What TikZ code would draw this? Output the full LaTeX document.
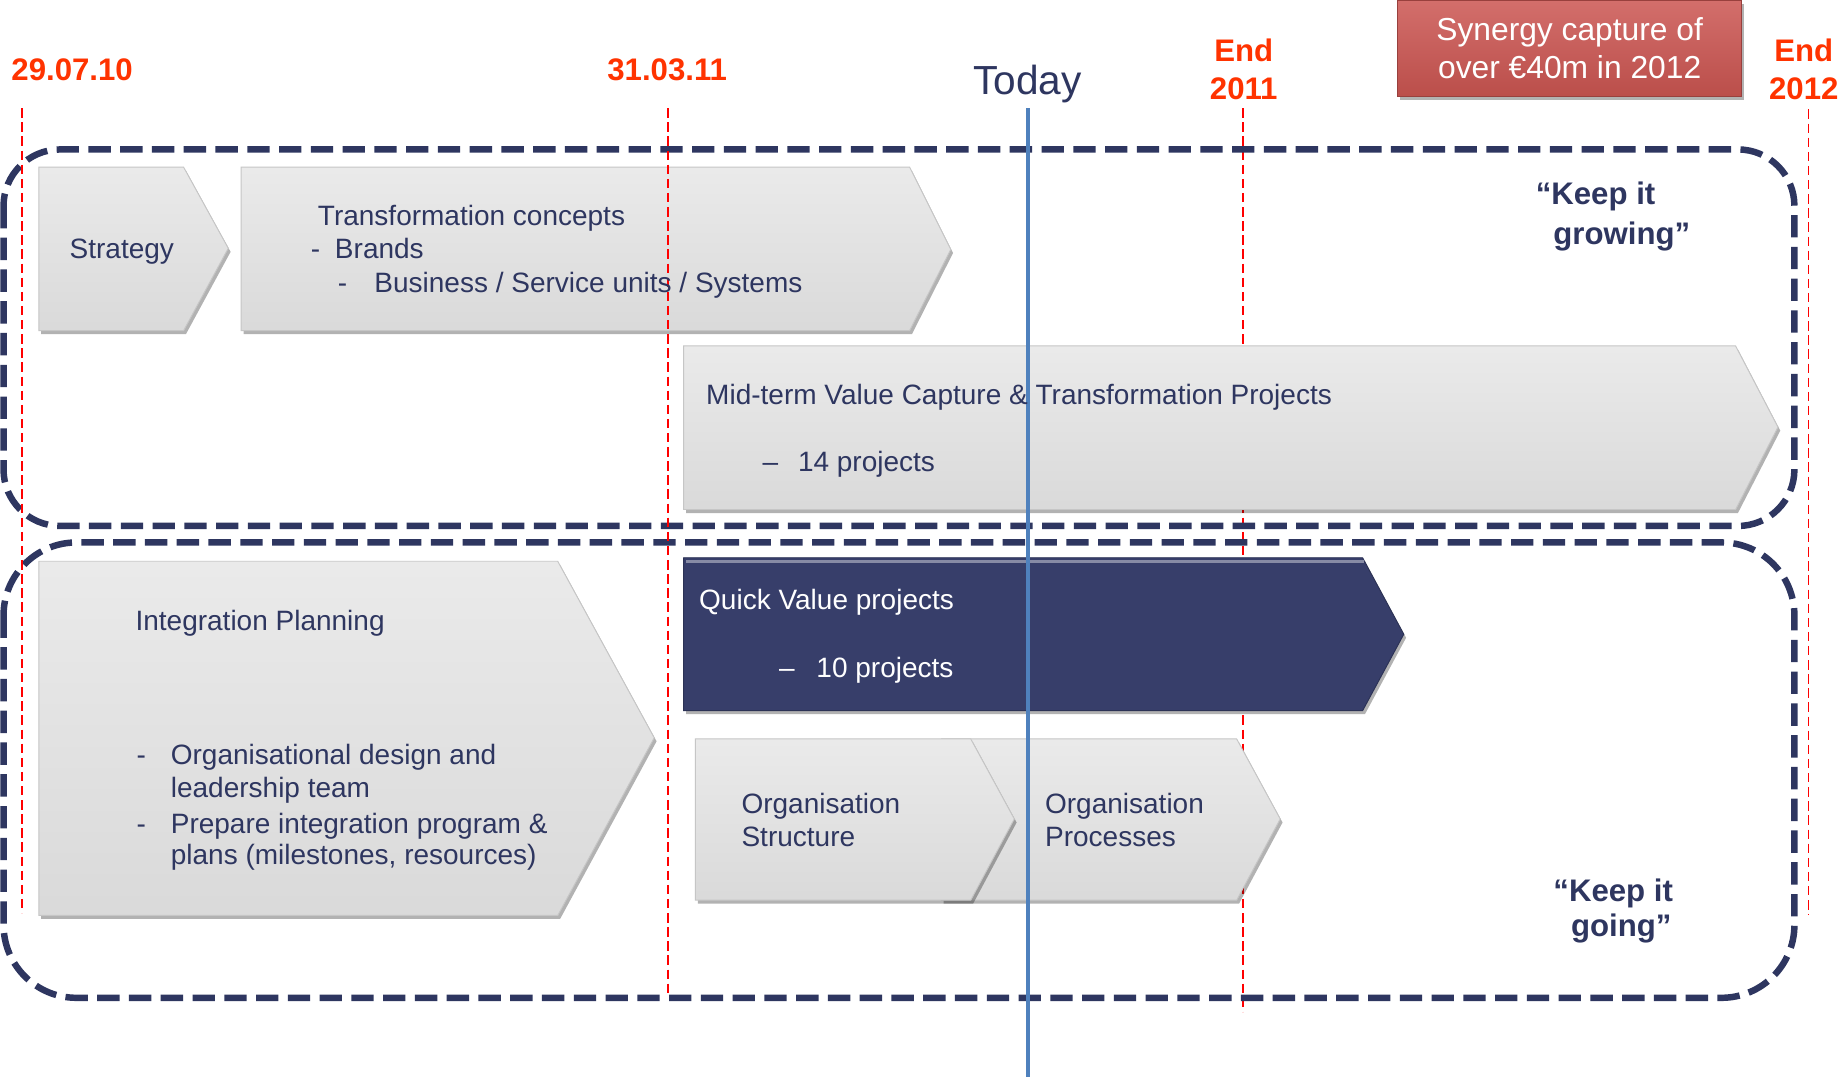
\documentclass[tikz,border=0pt]{standalone}
\usepackage{fontspec}
\setmainfont{Liberation Sans}
\usetikzlibrary{shadows}
\definecolor{navy}{RGB}{46,54,96}
\definecolor{navyfill}{HTML}{373E6A}
\definecolor{datered}{HTML}{FF3300}
\definecolor{chevgray}{HTML}{E5E5E5}
\definecolor{todayblue}{HTML}{4F81BD}
\definecolor{synred}{HTML}{CB5551}
\begin{document}
\begin{tikzpicture}[x=1pt,y=-1pt,
  groupbox/.style={draw=navy, line width=5.5pt, dash pattern=on 19pt off 8pt},
  milestone/.style={draw=red, line width=1.6pt, dash pattern=on 8pt off 4pt},
  chev/.style={top color=chevgray!80!white, bottom color=chevgray!95!black, draw=gray!45, line width=0.8pt,
    drop shadow={shadow xshift=2pt, shadow yshift=-3pt, opacity=0.3, fill=black}},
  chevdark/.style={fill=navyfill, draw=navyfill!80!black, line width=0.8pt,
    drop shadow={shadow xshift=2pt, shadow yshift=-3pt, opacity=0.3, fill=black}},
  txt/.style={text=navy, font=\fontsize{23.8}{28}\selectfont, inner sep=0pt, anchor=base west},
  wtxt/.style={text=white, font=\fontsize{23.8}{28}\selectfont, inner sep=0pt, anchor=base west},
  datelbl/.style={text=datered, font=\fontsize{26.5}{32}\selectfont\bfseries, inner sep=0pt},
  quotelbl/.style={text=navy, font=\fontsize{26.5}{32}\selectfont\bfseries, inner sep=0pt, anchor=base west}
]
\useasboundingbox[fill=white] (0,0) rectangle (1568,915);

% milestone line behind the boxes
\coordinate (m3t) at (1056,92);
\coordinate (m3b) at (1056,860);
\draw[milestone] (m3t) -- (m3b);

% group boxes
\draw[groupbox, rounded corners=48pt] (3,127) rectangle (1525,447);
\draw[groupbox, rounded corners=62pt] (3,461) rectangle (1525,848);

% chevrons
\draw[chev] (33,142) -- (156,142) -- (194,211) -- (156,281) -- (33,281) -- cycle;
\draw[chev] (205,142) -- (773,142) -- (808,212) -- (773,281) -- (205,281) -- cycle;
\draw[chev] (581,294) -- (1475,294) -- (1511,363) -- (1475,433) -- (581,433) -- cycle;
\draw[chev] (33,477) -- (474,477) -- (556,627) -- (474,778) -- (33,778) -- cycle;
\draw[chevdark] (581,474) -- (1158,474) -- (1193,539) -- (1158,604) -- (581,604) -- cycle;
\draw[navyfill!60!white, line width=2.5pt] (583,477) -- (1159,477);
\draw[chev] (800,628) -- (1051,628) -- (1088,696) -- (1051,765) -- (800,765) -- cycle;
\draw[chev] (591,628) -- (825,628) -- (862,696) -- (825,765) -- (591,765) -- cycle;

% other milestone lines
\coordinate (m1t) at (19,92);
\coordinate (m1b) at (19,776);
\coordinate (m2t) at (568,92);
\coordinate (m2b) at (568,846);
\coordinate (m4t) at (1537,93);
\coordinate (m4b) at (1537,778);
\draw[milestone] (m1t) -- (m1b);
\draw[milestone] (m2t) -- (m2b);
\draw[milestone] (m4t) -- (m4b);

% today line
\coordinate (tdt) at (874,92);
\coordinate (tdb) at (874,915);
\draw[todayblue, line width=3.5pt] (tdt) -- (tdb);

% top labels
\node[datelbl, anchor=base west] (d1) at (9.5,68.6) {29.07.10};
\node[datelbl, anchor=base west] (d2) at (516,68.6) {31.03.11};
\node[text=navy, font=\fontsize{34.5}{40}\selectfont, inner sep=0pt, anchor=base west] (today) at (827,80.7) {Today};
\node[datelbl, anchor=base] (e1a) at (1057,52.4) {End};
\node[datelbl, anchor=base] (e1b) at (1057,84.4) {2011};
\node[datelbl, anchor=base] (e2a) at (1533,52.4) {End};
\node[datelbl, anchor=base] (e2b) at (1533,84.4) {2012};

\node[top color=synred!85!white, bottom color=synred!92!black, draw=synred!75!black, line width=0.8pt, minimum width=292pt, minimum height=82pt,
  drop shadow={shadow xshift=2pt, shadow yshift=-3pt, opacity=0.3, fill=black}] (syn) at (1334,41) {};
\node[text=white, font=\fontsize{27}{32}\selectfont, inner sep=0pt, anchor=base] (syn1) at (1334,34.6) {Synergy capture of};
\node[text=white, font=\fontsize{27}{32}\selectfont, inner sep=0pt, anchor=base] (syn2) at (1334,66.5) {over €40m in 2012};

% chevron texts
\node[txt] (strat) at (59,220) {Strategy};
\node[txt] (tc1) at (270,192) {Transformation concepts};
\node[txt] (tc2d) at (264,220) {-};
\node[txt] (tc2) at (284.5,220) {Brands};
\node[txt] (tc3d) at (287,249) {-};
\node[txt] (tc3) at (318,249) {Business / Service units / Systems};

\node[txt] (mt1) at (600,344) {Mid-term Value Capture \& Transformation Projects};
\node[txt] (mt2d) at (648,401) {–};
\node[txt] (mt2) at (678,401) {14 projects};

\node[txt] (ip1) at (115,535.5) {Integration Planning};
\node[txt] (ip2d) at (116,650) {-};
\node[txt] (ip2) at (145,650) {Organisational design and};
\node[txt] (ip3) at (145,678) {leadership team};
\node[txt] (ip4d) at (116,708) {-};
\node[txt] (ip4) at (145,708) {Prepare integration program \&};
\node[txt] (ip5) at (145,735) {plans (milestones, resources)};

\node[wtxt] (qv1) at (594,518) {Quick Value projects};
\node[wtxt] (qv2d) at (662,575.6) {–};
\node[wtxt] (qv2) at (693.7,575.6) {10 projects};

\node[txt] (os1) at (630,691) {Organisation};
\node[txt] (os2) at (630,719) {Structure};
\node[txt] (op1) at (888,691) {Organisation};
\node[txt] (op2) at (888,719) {Processes};

% quotes
\node[quotelbl] (kg1) at (1305,174) {“Keep it};
\node[quotelbl] (kg2) at (1320,208) {growing”};
\node[quotelbl] (kk1) at (1320,766) {“Keep it};
\node[quotelbl] (kk2) at (1335,796) {going”};
\end{tikzpicture}
\end{document}
